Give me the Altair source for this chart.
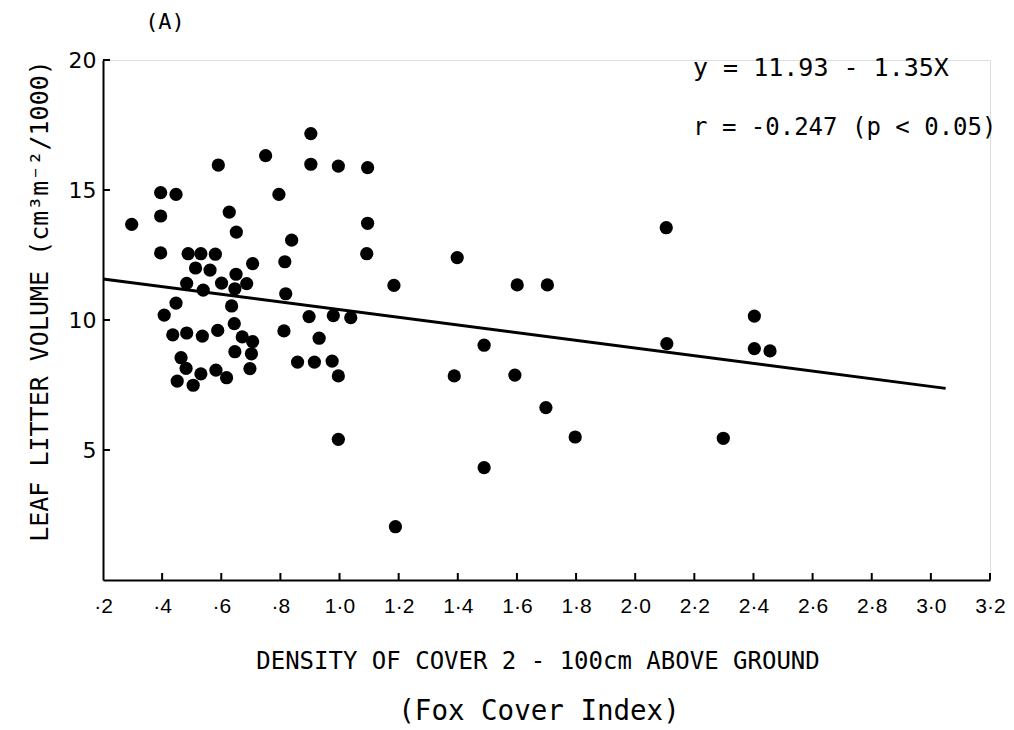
import altair as alt
import pandas as pd

# ---- data ----
x_vals = [0.297, 0.395, 0.447, 0.395, 0.590, 0.750, 0.795, 0.627, 0.651, 0.395,
          0.488, 0.531, 0.580, 0.513, 0.562, 0.706, 0.650, 0.483, 0.601, 0.686,
          0.539, 0.646, 0.447, 0.407, 0.635, 0.644, 0.436, 0.483, 0.536, 0.588,
          0.671, 0.706, 0.646, 0.702, 0.464, 0.481, 0.531, 0.582, 0.618, 0.697,
          0.451, 0.505,
          0.903, 0.903, 0.996, 1.095, 1.095, 0.838, 0.815, 1.092, 1.184, 0.818,
          0.897, 0.979, 1.038, 0.812, 0.931, 0.858, 0.915, 0.975, 0.996, 0.996,
          1.398, 1.601, 1.703, 1.489, 1.388, 1.593, 1.698, 1.797, 1.489, 1.189,
          2.105, 2.403, 2.107, 2.403, 2.456, 2.298]
y_vals = [13.68, 14.90, 14.83, 14.00, 15.96, 16.32, 14.83, 14.15, 13.38, 12.58,
          12.55, 12.55, 12.53, 12.00, 11.92, 12.17, 11.76, 11.41, 11.42, 11.40,
          11.15, 11.20, 10.65, 10.19, 10.54, 9.86, 9.43, 9.50, 9.38, 9.60,
          9.35, 9.17, 8.78, 8.70, 8.55, 8.14, 7.93, 8.07, 7.78, 8.13,
          7.65, 7.49,
          17.17, 15.99, 15.92, 15.86, 13.72, 13.07, 12.24, 12.55, 11.33, 11.01,
          10.13, 10.17, 10.09, 9.58, 9.30, 8.38, 8.38, 8.42, 7.85, 5.41,
          12.40, 11.35, 11.35, 9.03, 7.85, 7.88, 6.63, 5.50, 4.32, 2.05,
          13.55, 10.15, 9.09, 8.90, 8.81, 5.45]

fit_x = [0.2, 3.05]
fit_y = [11.58, 7.37]

x_ticks = [0.2, 0.4, 0.6, 0.8, 1.0, 1.2, 1.4, 1.6, 1.8, 2.0, 2.2, 2.4, 2.6, 2.8, 3.0, 3.2]
y_ticks = [5, 10, 15, 20]

label_panel = "(A)"
equation = "y = 11.93 - 1.35X"
correlation = "r = -0.247 (p < 0.05)"
x_title_1 = "DENSITY OF COVER 2 - 100cm ABOVE GROUND"
x_title_2 = "(Fox Cover Index)"
y_title = "LEAF LITTER VOLUME (cm\u00b3m\u207b\u00b2/1000)"

TITLE_FONT = "DejaVu Sans Mono"
LABEL_FONT = "Liberation Sans"

pts = pd.DataFrame({"x": x_vals, "y": y_vals})
fit = pd.DataFrame({"x": fit_x, "y": fit_y})

xscale = alt.Scale(domain=[0.2, 3.2], nice=False, zero=False)
yscale = alt.Scale(domain=[0, 20], nice=False, zero=True)

xaxis = alt.Axis(
    values=x_ticks, title=None,
    labelExpr="datum.value < 0.99 ? '\u00b7' + format(datum.value * 10, '.0f') : replace(format(datum.value, '.1f'), '.', '\u00b7')",
    labelPadding=15, labelFlush=False,
)
yaxis = alt.Axis(values=y_ticks, title=None, labelPadding=7)

points = alt.Chart(pts).mark_circle(size=175, color="black", opacity=1).encode(
    x=alt.X("x:Q", scale=xscale, axis=xaxis),
    y=alt.Y("y:Q", scale=yscale, axis=yaxis),
)

line = alt.Chart(fit).mark_line(color="black", strokeWidth=3).encode(
    x=alt.X("x:Q", scale=xscale, axis=xaxis),
    y=alt.Y("y:Q", scale=yscale, axis=yaxis),
)

xt = alt.Chart(pd.DataFrame({"v": x_ticks[1:]})).mark_rule(color="black", strokeWidth=2).encode(
    x=alt.X("v:Q", scale=xscale, axis=xaxis),
    y=alt.value(520), y2=alt.value(513),
)
yt = alt.Chart(pd.DataFrame({"v": y_ticks})).mark_rule(color="black", strokeWidth=2).encode(
    y=alt.Y("v:Q", scale=yscale, axis=yaxis),
    x=alt.value(0), x2=alt.value(7),
)


def text_layer(txt, x, y, size, align="center", angle=0, font=TITLE_FONT):
    kw = dict(align=align, baseline="middle", font=font, fontSize=size, color="black")
    if angle:
        kw["angle"] = angle
    return alt.Chart(pd.DataFrame({"t": [txt]})).mark_text(**kw).encode(
        text="t:N", x=alt.value(x), y=alt.value(y)
    )


texts = [
    text_layer(label_panel, 62, -38, 22),
    text_layer(equation, 590, 8, 25, align="left"),
    text_layer(correlation, 590, 68, 24, align="left"),
    text_layer(x_title_1, 435, 602, 24),
    text_layer(x_title_2, 436, 652, 27.5),
    text_layer(y_title, -63, 241, 25, angle=270),
]

chart = alt.layer(points, line, xt, yt, *texts).properties(
    width=887, height=520,
    autosize=alt.AutoSizeParams(type="none"),
    padding={"left": 103, "top": 60, "right": 24, "bottom": 150},
).configure_view(stroke=None).configure(background="white").configure_axis(
    labelColor="black", domainColor="black", domainWidth=2,
    tickSize=0, ticks=False, grid=False,
).configure_axisX(
    labelFont=LABEL_FONT, labelFontSize=21,
).configure_axisY(
    labelFont="DejaVu Sans", labelFontSize=22,
)

chart.save("out.html", embed_options={"renderer": "svg", "actions": False})
